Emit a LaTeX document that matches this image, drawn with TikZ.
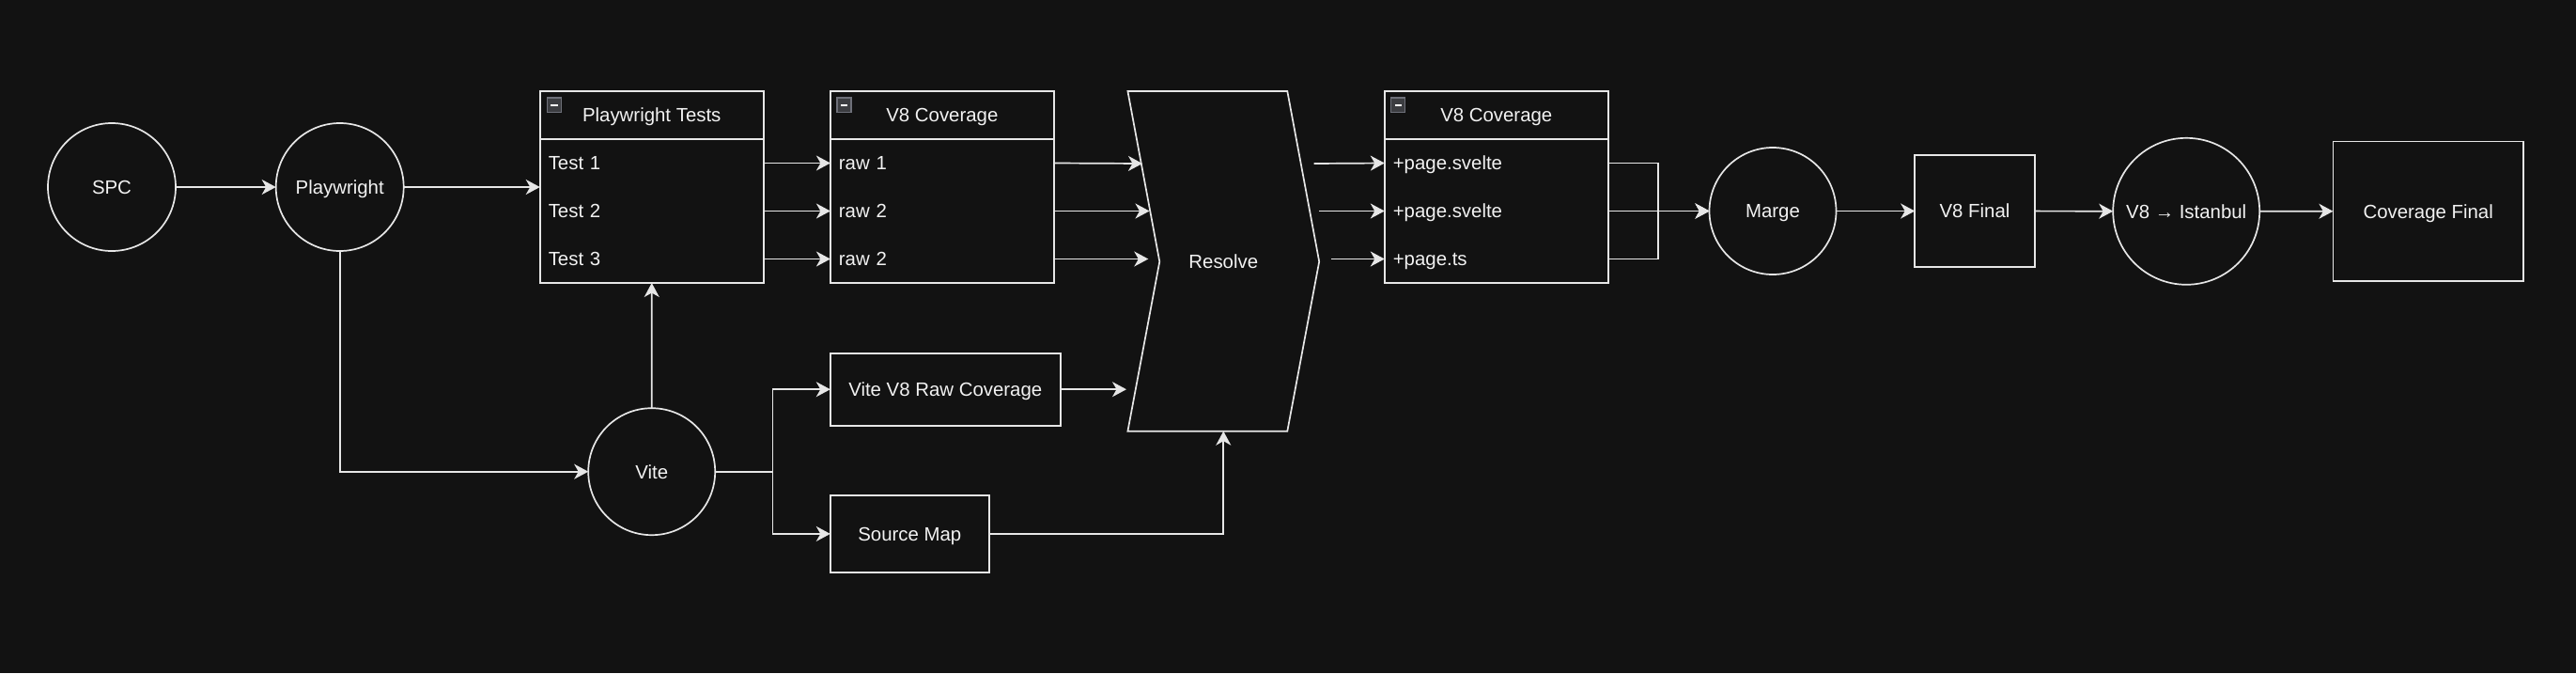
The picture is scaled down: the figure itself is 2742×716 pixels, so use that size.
\documentclass[tikz,border=0pt]{standalone}
\usepackage{fontspec}
\setmainfont{Liberation Sans}
\usetikzlibrary{arrows.meta}
\definecolor{bg}{HTML}{121212}
\definecolor{lc}{HTML}{E6E6E6}
\definecolor{tc}{HTML}{F2F2F2}
\definecolor{iconedge}{HTML}{6E7079}
\definecolor{iconfill}{HTML}{3C3D41}
\tikzset{
  every node/.style={font=\fontsize{20.4}{24}\selectfont, text=tc, text height=14.6pt, text depth=0pt},
  box/.style={draw=lc, line width=1.7pt, rectangle, inner sep=0pt, outer sep=0pt},
  rnd/.style={draw=lc, line width=1.7pt, circle, inner sep=0pt, outer sep=0pt},
  cont/.style={box, minimum width=238pt, minimum height=204pt},
  hdr/.style={rectangle, minimum width=238pt, minimum height=51pt, inner sep=0pt, outer sep=0pt},
  row/.style={rectangle, minimum height=51pt, text width=220pt, inner xsep=9pt, inner ysep=0pt, outer sep=0pt, align=left},
  arr/.style={draw=lc, line width=1.7pt, -{Stealth[length=15pt,width=16pt,inset=4.5pt]}},
  ln/.style={draw=lc, line width=1.7pt},
  minusicon/.pic={
    \draw[draw=iconedge, fill=iconfill, line width=1.5pt] (0,0) rectangle (15,15.5);
    \fill[white] (3.8,6.6) rectangle (11.2,9.2);
  }
}
\begin{document}
\begin{tikzpicture}[x=1pt,y=-1pt]
\fill[bg] (0,0) rectangle (2742,716);
\useasboundingbox (0,0) rectangle (2742,716);

% left circles
\node[rnd, minimum size=136pt] (spc) at (119,199) {SPC};
\node[rnd, minimum size=136pt] (pw) at (361.7,199) {Playwright};

% Playwright Tests container
\node[cont] (pwt) at (693.75,199) {};
\node[hdr] (pwth) at (693.75,122.5) {Playwright Tests};
\draw[ln] (pwth.south west) -- (pwth.south east);
\node[row] (t1) at (693.75,173.5) {Test 1};
\node[row] (t2) at (693.75,224.5) {Test 2};
\node[row] (t3) at (693.75,275.5) {Test 3};
\pic at (582.5,104) {minusicon};

% V8 Coverage 1
\node[cont] (v1) at (1002.9,199) {};
\node[hdr] (v1h) at (1002.9,122.5) {V8 Coverage};
\draw[ln] (v1h.south west) -- (v1h.south east);
\node[row] (r1) at (1002.9,173.5) {raw 1};
\node[row] (r2) at (1002.9,224.5) {raw 2};
\node[row] (r3) at (1002.9,275.5) {raw 2};
\pic at (891,104) {minusicon};

% Vite and its outputs
\node[rnd, minimum size=135pt] (vite) at (693.7,501.7) {Vite};
\node[box, minimum width=245pt, minimum height=77pt] (vraw) at (1006.3,414.2) {Vite V8 Raw Coverage};
\node[box, minimum width=169pt, minimum height=82.3pt] (smap) at (968.3,567.9) {Source Map};

% Resolve step shape
\coordinate (rtl) at (1200.4,97);
\coordinate (rtr) at (1370.3,97);
\coordinate (rrp) at (1404.2,278.3);
\coordinate (rbr) at (1370.3,458.7);
\coordinate (rbl) at (1200.4,458.7);
\coordinate (rlp) at (1234.3,278.3);
\draw[ln, line join=miter] (rtl) -- (rtr) -- (rrp) -- (rbr) -- (rbl) -- (rlp) -- cycle;
\node (res) at (1302.3,278.3) {Resolve};
\coordinate (rin1) at (1216,174);
\coordinate (rin2) at (1223.5,224.5);
\coordinate (rin3) at (1222.3,275.5);
\coordinate (rin4) at (1199,414.2);
\coordinate (rbot) at (1302.3,458.7);
\coordinate (rout1) at (1398.5,174);
\coordinate (rout2) at (1404.3,224.5);
\coordinate (rout3) at (1416.8,275.5);

% V8 Coverage 2
\node[cont] (v2) at (1592.8,199) {};
\node[hdr] (v2h) at (1592.8,122.5) {V8 Coverage};
\draw[ln] (v2h.south west) -- (v2h.south east);
\node[row] (p1) at (1592.8,173.5) {+page.svelte};
\node[row] (p2) at (1592.8,224.5) {+page.svelte};
\node[row] (p3) at (1592.8,275.5) {+page.ts};
\pic at (1480.7,104) {minusicon};

% right chain
\node[rnd, minimum size=135pt] (marge) at (1887,224.5) {Marge};
\node[box, minimum width=127.6pt, minimum height=119.6pt] (vfin) at (2102,224.5) {V8 Final};
\node[rnd, minimum size=156pt] (ist) at (2327.2,224.8) {V8 → Istanbul};
\node[box, minimum width=202.6pt, minimum height=148.7pt] (cfin) at (2584.7,224.7) {Coverage Final};
\coordinate (mj) at (1765,224.5);

% connectors
\draw[arr] (spc) -- (pw);
\draw[arr] (pw.east) -- (pwt.west);
\draw[arr] (pw.south) |- (vite.west);
\draw[arr] (vite.north) -- (pwt.south);
\coordinate (vsplit) at (822.5,501.7);
\draw[arr] (vite.east) -- (vsplit) |- (vraw.west);
\draw[arr] (vite.east) -- (vsplit) |- (smap.west);

\draw[arr] (t1.east) -- (r1.west);
\draw[arr] (t2.east) -- (r2.west);
\draw[arr] (t3.east) -- (r3.west);

\draw[arr] (r1.east) -- (rin1);
\draw[arr] (r2.east) -- (rin2);
\draw[arr] (r3.east) -- (rin3);
\draw[arr] (vraw.east) -- (rin4);
\draw[arr] (smap.east) -| (rbot);

\draw[arr] (rout1) -- (p1.west);
\draw[arr] (rout2) -- (p2.west);
\draw[arr] (rout3) -- (p3.west);

\draw[arr] (p1.east) -| (mj) -- (marge.west);
\draw[arr] (p2.east) -- (marge.west);
\draw[arr] (p3.east) -| (mj) -- (marge.west);

\draw[arr] (marge) -- (vfin);
\draw[arr] (vfin) -- (ist);
\draw[arr] (ist) -- (cfin);
\end{tikzpicture}
\end{document}
